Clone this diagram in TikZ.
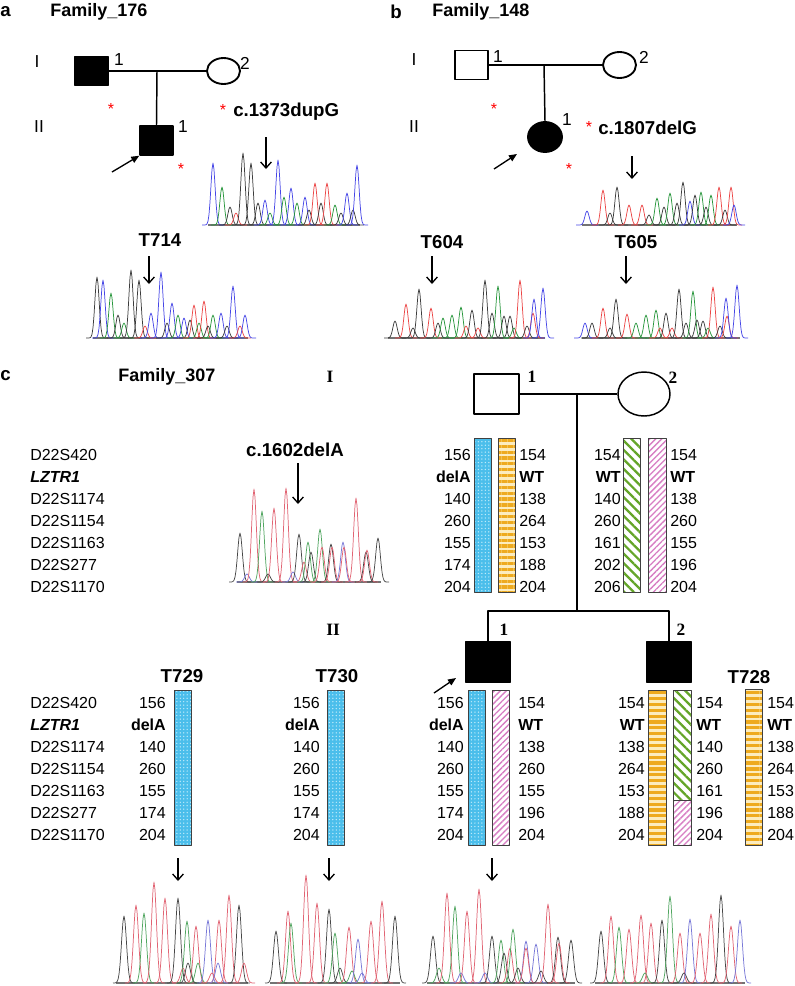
\documentclass[tikz,border=0pt]{standalone}
\usepackage{fontspec}
\setmainfont{Liberation Sans}
\newfontfamily\pedfont{Liberation Serif}
\usetikzlibrary{arrows.meta,patterns.meta,shapes.geometric}

% trace colours (panels a, b) and lighter ones (panel c)
\definecolor{tk}{RGB}{60,60,60}
\definecolor{tr}{RGB}{235,70,70}
\definecolor{tg}{RGB}{40,150,60}
\definecolor{tb}{RGB}{70,70,230}
\definecolor{ck}{RGB}{70,70,70}
\definecolor{cr}{RGB}{225,100,115}
\definecolor{cg}{RGB}{80,165,95}
\definecolor{cb}{RGB}{120,120,215}
% haplotype colours
\definecolor{hblue}{RGB}{75,190,235}
\definecolor{hdot}{RGB}{190,235,250}
\definecolor{horange}{RGB}{238,170,30}
\definecolor{hcream}{RGB}{252,236,190}
\definecolor{hgreen}{RGB}{100,165,40}
\definecolor{hpink}{RGB}{215,125,195}

\newcommand{\pxu}{0.75pt}

% one chromatogram: x from, x to, baseline, peak width, peaks x/height/colour
\newcommand{\chromat}[5]{%
  \draw[tracebase] (#1,#3) -- (#2,#3);
  \foreach \pkx/\pkh/\pkc in {#5}
    \draw[tracepk, color=\pkc] plot[domain=-11:11, samples=23]
      ({\pkx+\x}, {#3-\pkh*exp(-(\x/#4)*(\x/#4))});
}

% one column of haplotype values: name, x, anchor, top row y, values
\newcommand{\hapnums}[5]{%
  \foreach \hv [count=\hi from 0] in {#5}
    \node[num, anchor=#3] (#1\hi) at (#2, #4+22*\hi) {\hv};
}

\tikzset{
  panel/.style={font=\bfseries\fontsize{14}{16}\selectfont, inner sep=0pt, anchor=west},
  fam/.style={font=\bfseries\fontsize{13.5}{16}\selectfont, inner sep=0pt, anchor=west},
  lbl/.style={font=\bfseries\fontsize{14}{16}\selectfont, inner sep=0pt},
  gensans/.style={font=\fontsize{13}{15}\selectfont, inner sep=0pt},
  genserif/.style={font=\pedfont\bfseries\fontsize{13}{15}\selectfont, inner sep=0pt},
  num/.style={font=\fontsize{12}{14}\selectfont, inner sep=0pt},
  redast/.style={text=red, font=\fontsize{12}{12}\selectfont, inner sep=0pt, anchor=north},
  male/.style={draw, rectangle, line width=1.1pt, inner sep=0pt,
    minimum width=33*\pxu, minimum height=29*\pxu},
  female/.style={draw, ellipse, line width=1.4pt, inner sep=0pt,
    minimum width=33*\pxu, minimum height=26*\pxu},
  maleC/.style={draw, rectangle, line width=1.1pt, inner sep=0pt,
    minimum width=45*\pxu, minimum height=40*\pxu},
  femaleC/.style={draw, ellipse, line width=1.1pt, inner sep=0pt,
    minimum width=52*\pxu, minimum height=44*\pxu},
  pedline/.style={line width=1.1pt},
  dnarrow/.style={line width=1pt, -{Straight Barb[length=4.5pt,width=8pt]}},
  probarrow/.style={line width=1pt, -{Triangle[length=6pt,width=5pt]}},
  tracebase/.style={line width=0.8pt, black!55},
  tracepk/.style={line width=0.55pt},
  bar/.style={draw=black!75, line width=0.6pt},
  hapblue/.style={bar, preaction={fill=hblue},
    pattern={Dots[radius=0.55pt,distance=2.6pt]}, pattern color=hdot},
  haporange/.style={bar, preaction={fill=hcream},
    pattern={Lines[angle=0,distance=4.4pt,line width=2.4pt]}, pattern color=horange},
  hapgreen/.style={bar, preaction={fill=white},
    pattern={Lines[angle=-45,distance=5pt,line width=1.7pt]}, pattern color=hgreen},
  happink/.style={bar, preaction={fill=white},
    pattern={Lines[angle=45,distance=3.2pt,line width=1pt]}, pattern color=hpink},
}

\begin{document}
\begin{tikzpicture}[x=0.75pt,y=-0.75pt,line join=round]
  \useasboundingbox (0,0) rectangle (794,986);

  % ---------------- panel a: Family_176
  \node[panel] (pa) at (0,12) {a};
  \node[fam] (famA) at (50,12) {Family\_176};
  \node[gensans] (genAI) at (37,62) {I};
  \node[gensans] (genAII) at (39,127) {II};

  \node[male, fill=black] (a1) at (91.5,71) {};
  \node[female] (a2) at (223.5,71) {};
  \node[male, fill=black] (a3) at (156.5,140.5) {};
  \coordinate (ma) at (157,71);
  \draw[pedline] (a1.east) -- (a2.west);
  \draw[pedline] (ma) -- (a3.north);

  \node[gensans] (a1n) at (119,60) {1};
  \node[gensans] (a2n) at (245,63) {2};
  \node[gensans] (a3n) at (183,127) {1};

  \coordinate (prA) at (112,172);
  \draw[probarrow] (prA) -- (a3.south west);

  \node[redast] (astA1) at (111,103) {*};
  \node[redast] (astA2) at (181,163) {*};
  \node[redast] (astA3) at (223,104) {*};

  \node[lbl, anchor=west] (mutA) at (233,112) {c.1373dupG};
  \coordinate (arA1s) at (266,137);
  \coordinate (arA1e) at (266,169);
  \draw[dnarrow] (arA1s) -- (arA1e);
  \chromat{208}{360}{225}{3.0}{213/62/tb, 222/38/tg, 230/18/tk, 236/12/tr, 243/72/tk,
    251/62/tk, 258/22/tk, 265/25/tb, 270/12/tg, 278/65/tb, 284/28/tg, 291/37/tb,
    297/22/tg, 305/28/tb, 309/15/tk, 315/42/tr, 321/22/tk, 327/42/tr, 335/20/tg,
    341/12/tk, 347/32/tb, 353/15/tk, 357/60/tb}

  \node[lbl] (tA) at (160,240) {T714};
  \coordinate (arA2s) at (149,256);
  \coordinate (arA2e) at (149,284);
  \draw[dnarrow] (arA2s) -- (arA2e);
  \chromat{93}{248}{338}{3.0}{97/61/tk, 103/58/tb, 111/45/tg, 118/23/tk, 124/15/tg,
    131/68/tk, 139/58/tk, 145/12/tr, 151/25/tb, 161/66/tb, 167/15/tk, 172/35/tb,
    178/23/tg, 184/20/tb, 190/18/tk, 194/33/tr, 199/15/tg, 204/37/tr, 208/12/tk,
    213/23/tg, 221/25/tb, 227/12/tk, 233/52/tb, 240/12/tr, 245/23/tb}

  % ---------------- panel b: Family_148
  \node[panel] (pb) at (390,12) {b};
  \node[fam] (famB) at (432,12) {Family\_148};
  \node[gensans] (genBI) at (414,60) {I};
  \node[gensans] (genBII) at (414,127) {II};

  \node[male] (b1) at (471.5,65) {};
  \node[female] (b2) at (619.5,65) {};
  \node[female, fill=black, minimum width=34*\pxu, minimum height=30*\pxu] (b3) at (545,137) {};
  \coordinate (mb) at (544,65);
  \draw[pedline] (b1.east) -- (b2.west);
  \draw[pedline] (mb) -- (b3.north);

  \node[gensans] (b1n) at (498,57) {1};
  \node[gensans] (b2n) at (644,57) {2};
  \node[gensans] (b3n) at (567,120) {1};

  \coordinate (prB) at (494,169);
  \draw[probarrow] (prB) -- (517,154);

  \node[redast] (astB1) at (494,103) {*};
  \node[redast] (astB2) at (569,163) {*};
  \node[redast] (astB3) at (589,121) {*};

  \node[lbl, anchor=west] (mutB) at (598,128) {c.1807delG};
  \coordinate (arB1s) at (632,156);
  \coordinate (arB1e) at (632,179);
  \draw[dnarrow] (arB1s) -- (arB1e);
  \chromat{582}{737}{225}{3.0}{587/14/tb, 603/35/tr, 610/12/tk, 617/38/tk, 629/20/tr,
    642/20/tr, 649/10/tk, 657/27/tg, 664/18/tk, 670/32/tg, 677/22/tk, 683/43/tk,
    690/24/tb, 695/30/tk, 701/33/tg, 706/18/tk, 711/30/tg, 719/38/tr, 725/15/tk,
    731/38/tr, 734/20/tb}

  \node[lbl] (tB1) at (442,242) {T604};
  \coordinate (arB2s) at (432,256);
  \coordinate (arB2e) at (432,284);
  \draw[dnarrow] (arB2s) -- (arB2e);
  \chromat{388}{545}{338}{3.0}{395/17/tk, 406/34/tr, 413/10/tk, 419/49/tk, 431/30/tr,
    438/15/tk, 443/20/tg, 452/23/tg, 461/31/tg, 466/12/tr, 472/28/tk, 478/10/tr,
    485/58/tk, 492/25/tk, 498/52/tg, 504/22/tk, 510/22/tk, 514/10/tg, 520/58/tr,
    527/12/tk, 533/25/tr, 534/39/tb, 543/50/tb}

  \node[lbl] (tB2) at (636,242) {T605};
  \coordinate (arB3s) at (626,256);
  \coordinate (arB3e) at (626,284);
  \draw[dnarrow] (arB3s) -- (arB3e);
  \chromat{582}{740}{338}{3.0}{585/15/tb, 592/15/tk, 603/30/tr, 610/10/tk, 616/39/tk,
    627/24/tr, 636/15/tg, 646/23/tg, 656/28/tg, 660/10/tr, 666/25/tk, 672/10/tr,
    679/49/tk, 686/15/tk, 693/47/tg, 697/18/tk, 703/17/tk, 708/10/tg, 713/51/tr,
    720/12/tk, 727/22/tr, 726/40/tb, 737/53/tb}

  % ---------------- panel c: Family_307
  \node[panel] (pc) at (0,376) {c};
  \node[fam] (famC) at (118,377) {Family\_307};
  \node[genserif] (genCI) at (330,377) {I};
  \node[genserif] (genCII) at (333,630) {II};

  \node[maleC] (c1) at (496.5,394) {};
  \node[femaleC] (c2) at (644,394) {};
  \node[maleC, fill=black] (c3) at (488,662) {};
  \node[maleC, fill=black] (c4) at (669,662) {};
  \coordinate (mc) at (577,394);
  \coordinate (sib) at (577,611);
  \draw[pedline] (c1.east) -- (c2.west);
  \draw[pedline] (mc) -- (sib);
  \draw[pedline] (c3.north) |- (sib) -| (c4.north);

  \node[genserif] (c1n) at (532,377) {1};
  \node[genserif] (c2n) at (673,378) {2};
  \node[genserif] (c3n) at (504,630) {1};
  \node[genserif] (c4n) at (681,630) {2};

  \coordinate (prC) at (434,693);
  \draw[probarrow] (prC) -- (456,678);

  % marker names
  \hapnums{mkI}{30}{west}{455}{D22S420, \textbf{\textit{LZTR1}}, D22S1174, D22S1154, D22S1163, D22S277, D22S1170}
  \hapnums{mkII}{30}{west}{703}{D22S420, \textbf{\textit{LZTR1}}, D22S1174, D22S1154, D22S1163, D22S277, D22S1170}

  % mutation trace of the father
  \node[lbl] (mutC) at (295,450) {c.1602delA};
  \coordinate (arC1s) at (298,463);
  \coordinate (arC1e) at (298,504);
  \draw[dnarrow] (arC1s) -- (arC1e);
  \chromat{237}{381}{582}{3.3}{240/49/ck, 247/8/cb, 254/93/cr, 262/71/cg, 268/8/ck,
    274/74/cr, 286/94/cr, 293/10/cb, 299/48/ck, 304/20/cr, 308/40/cg, 311/30/ck,
    320/53/cg, 322/35/cr, 331/38/ck, 332/35/cr, 343/40/cb, 344/35/cr, 356/84/cr,
    366/30/ck, 367/32/cr, 378/44/ck}

  % generation I haplotypes
  \draw[hapblue] (474,438) rectangle (491,592);
  \draw[haporange] (498,438) rectangle (515,592);
  \draw[hapgreen] (623,438) rectangle (640,592);
  \draw[happink] (648,438) rectangle (666,592);
  \hapnums{c1l}{471}{east}{455}{156, \textbf{delA}, 140, 260, 155, 174, 204}
  \hapnums{c1r}{519}{west}{455}{154, \textbf{WT}, 138, 264, 153, 188, 204}
  \hapnums{c2l}{621}{east}{455}{154, \textbf{WT}, 140, 260, 161, 202, 206}
  \hapnums{c2r}{670}{west}{455}{154, \textbf{WT}, 138, 260, 155, 196, 204}

  % generation II haplotypes
  \node[lbl] (tC1) at (182,676) {T729};
  \draw[hapblue] (174,690) rectangle (191,845);
  \hapnums{t729}{166}{east}{703}{156, \textbf{delA}, 140, 260, 155, 174, 204}

  \node[lbl] (tC2) at (337,676) {T730};
  \draw[hapblue] (327,690) rectangle (344,845);
  \hapnums{t730}{320}{east}{703}{156, \textbf{delA}, 140, 260, 155, 174, 204}

  \draw[hapblue] (468,690) rectangle (485,845);
  \draw[happink] (492,690) rectangle (509,845);
  \hapnums{c3l}{464}{east}{703}{156, \textbf{delA}, 140, 260, 155, 174, 204}
  \hapnums{c3r}{518}{west}{703}{154, \textbf{WT}, 138, 260, 155, 196, 204}

  \draw[haporange] (648,690) rectangle (666,845);
  \draw[hapgreen] (673,690) rectangle (691,800);
  \draw[happink] (673,800) rectangle (691,845);
  \hapnums{c4l}{645}{east}{703}{154, \textbf{WT}, 138, 264, 153, 188, 204}
  \hapnums{c4r}{696}{west}{703}{154, \textbf{WT}, 140, 260, 161, 196, 204}

  \node[lbl] (tC3) at (749,677) {T728};
  \draw[haporange] (745,689) rectangle (762,845);
  \hapnums{t728}{767}{west}{703}{154, \textbf{WT}, 138, 264, 153, 188, 204}

  % generation II traces
  \coordinate (arC2s) at (178,858);
  \coordinate (arC2e) at (178,881);
  \draw[dnarrow] (arC2s) -- (arC2e);
  \chromat{116}{248}{983}{3.5}{124/67/ck, 136/78/cr, 144/70/cg, 154/101/cr, 165/85/cr,
    178/85/ck, 183/15/cr, 187/62/cg, 188/20/ck, 196/57/cr, 198/20/cg, 208/63/cb,
    212/10/cr, 219/63/cr, 218/20/cb, 229/88/cr, 239/78/ck, 244/20/cr}

  \coordinate (arC3s) at (329,858);
  \coordinate (arC3e) at (329,881);
  \draw[dnarrow] (arC3s) -- (arC3e);
  \chromat{270}{400}{983}{3.5}{276/52/ck, 288/72/cr, 291/60/cg, 306/108/cr, 317/80/cr,
    329/74/ck, 335/50/cg, 340/15/ck, 349/56/cr, 352/12/cg, 358/44/cb, 362/10/cb,
    371/62/cr, 382/82/cr, 395/67/ck}

  \coordinate (arC4s) at (492,858);
  \coordinate (arC4e) at (492,881);
  \draw[dnarrow] (arC4s) -- (arC4e);
  \chromat{427}{575}{983}{3.5}{433/47/ck, 439/15/cg, 447/90/cr, 455/77/cg, 461/10/cb,
    467/72/cr, 479/94/cr, 485/10/cb, 492/47/ck, 501/43/cg, 504/30/ck, 510/35/cr,
    513/54/cg, 518/15/ck, 526/42/cb, 526/35/cr, 536/39/cb, 541/12/ck, 548/79/cr,
    558/46/ck, 559/40/cr, 571/43/ck}

  \chromat{595}{745}{983}{3.5}{601/52/ck, 611/67/cr, 619/56/cg, 629/54/cr, 641/68/cr,
    645/10/cg, 651/60/cr, 662/63/ck, 670/87/cg, 680/50/cr, 684/10/ck, 690/64/cb,
    700/50/cr, 711/69/cr, 721/88/ck, 731/57/cr, 740/63/cb}
\end{tikzpicture}
\end{document}
